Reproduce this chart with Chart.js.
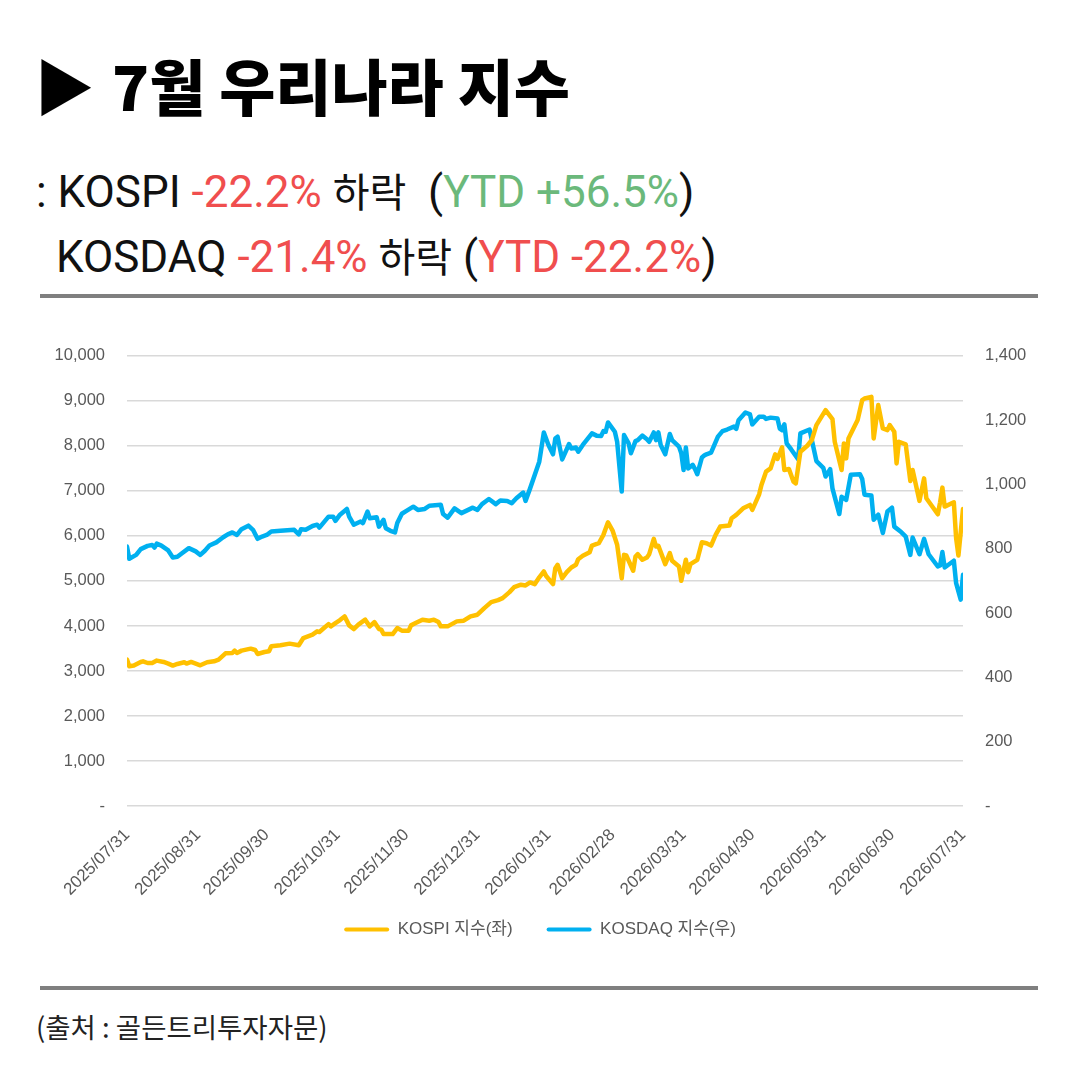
<!DOCTYPE html>
<html><head><meta charset="utf-8">
<script src="https://cdn.jsdelivr.net/npm/chart.js@4"></script>
<style>
html,body{margin:0;padding:0;background:#fff;}
body{width:1080px;height:1080px;position:relative;overflow:hidden;font-family:"Noto Sans CJK KR","Noto Sans",sans-serif;color:#111;}
.abs{position:absolute;white-space:pre;line-height:1;}
#title{left:34px;top:54px;font-size:61px;font-weight:900;color:#000;}
#title .tri{margin-right:3px;}
.sub{font-family:Roboto,"Noto Sans CJK KR",sans-serif;font-size:44px;color:#111;}
.ko{font-family:"Noto Sans CJK KR",sans-serif;font-size:40px;}
#sub1{left:36px;top:170px;}
#sub2{left:56px;top:235px;}
.red{color:#F04E4E;}
.green{color:#6BB97B;}
.rule{position:absolute;left:40px;width:998px;height:4px;background:#7f7f7f;}
#foot{left:36px;top:1013px;font-size:27.5px;color:#222;}
#wrap{position:absolute;left:0;top:324px;width:1080px;height:654px;}
</style>
</head><body>
<div id="title" class="abs"><span class="tri">▶</span> 7월 우리나라 지수</div>
<div id="sub1" class="abs sub">: KOSPI <span class="red">-22.2%</span> <span class="ko">하락</span>  (<span class="green">YTD +56.5%</span>)</div>
<div id="sub2" class="abs sub">KOSDAQ <span class="red">-21.4%</span> <span class="ko">하락</span> (<span class="red">YTD -22.2%</span>)</div>
<div class="rule" style="top:294px"></div>
<div id="wrap"><canvas id="c"></canvas></div>
<div class="rule" style="top:986px"></div>
<div id="foot" class="abs">(출처 : 골든트리투자자문)</div>
<script>
// x tick labels (month ends)
const tickLabels = ['2025/07/31','2025/08/31','2025/09/30','2025/10/31','2025/11/30','2025/12/31','2026/01/31','2026/02/28','2026/03/31','2026/04/30','2026/05/31','2026/06/30','2026/07/31'];
const seriesNames = ['KOSPI 지수(좌)', 'KOSDAQ 지수(우)'];

// KOSPI: days since 2025/07/31, index value (left axis)
const kospiDay = [0,1,3,6,7,9,11,13,16,18,20,22,25,26,28,30,32,35,38,40,43,46,47,48,50,54,56,57,60,62,63,67,71,75,77,81,83,84,86,88,89,91,93,95,97,99,101,104,106,108,110,111,112,116,118,120,123,124,126,129,132,134,136,137,140,144,147,150,153,156,159,162,164,167,169,172,174,176,178,180,182,183,186,187,188,190,192,194,196,197,199,202,203,206,208,210,212,214,216,217,218,221,222,223,225,227,228,230,231,232,235,237,238,241,242,244,245,246,249,251,253,255,257,259,263,264,266,269,272,273,276,277,279,281,283,284,286,287,289,291,292,294,297,299,301,305,308,309,312,313,314,315,319,321,322,325,326,328,330,332,333,335,336,337,340,342,343,346,348,349,354,355,356,357,361,362,363,365];
const kospiVal = [3253,3104,3120,3200,3215,3177,3177,3230,3200,3164,3120,3155,3193,3164,3200,3164,3126,3193,3215,3253,3392,3400,3452,3400,3452,3496,3466,3377,3421,3437,3548,3570,3607,3570,3732,3807,3880,3865,3953,4042,3991,4064,4130,4213,4013,3931,4029,4140,3991,4087,3931,3918,3820,3820,3953,3896,3896,4013,4064,4140,4117,4140,4087,3991,3991,4102,4117,4213,4250,4397,4530,4574,4619,4752,4862,4916,4900,4967,4929,5080,5211,5110,4929,5284,5359,5062,5195,5299,5359,5483,5559,5639,5787,5838,6024,6304,6120,5803,5062,5581,5565,5226,5543,5594,5470,5521,5594,5936,5765,5780,5373,5617,5448,5322,5004,5470,5195,5373,5470,5861,5838,5787,6024,6208,6231,6392,6468,6614,6689,6578,6925,7133,7428,7501,7812,7709,7967,7466,7488,7206,7169,7871,8004,8131,8463,8796,8597,8093,7466,8056,7723,8166,8574,9018,9053,9091,8166,8907,8388,8352,8463,8315,7612,8093,8033,7222,7466,6778,7279,6836,6481,6747,7073,6652,6747,5949,5565,6601];

// KOSDAQ: days since 2025/07/31, index value (right axis)
const kosdaqDay = [0,1,4,6,9,11,12,13,15,18,20,22,24,27,30,32,34,36,39,42,44,46,48,50,53,55,57,59,61,63,67,73,75,76,78,81,83,84,86,88,90,91,93,96,97,99,102,103,105,106,109,110,112,113,115,117,118,120,122,125,127,130,132,137,138,140,143,146,151,153,155,158,161,163,166,168,170,173,174,176,180,182,184,186,187,188,190,193,194,196,197,199,203,205,207,208,209,210,213,214,216,217,219,220,222,223,225,227,228,230,231,232,233,235,237,238,241,242,243,244,245,247,248,249,251,252,253,255,258,260,262,265,266,267,270,272,273,276,278,279,281,284,285,286,287,288,290,293,294,298,301,304,305,307,308,311,312,314,316,320,321,322,325,326,328,330,332,334,335,338,340,342,343,346,348,350,354,355,356,357,361,362,364,365];
const kosdaqVal = [807,769,781,799,809,812,804,816,810,795,773,775,786,802,792,781,794,810,820,836,845,851,843,861,872,859,831,838,843,854,856,859,845,861,859,871,875,866,883,900,900,887,906,924,900,875,885,880,916,895,898,869,890,864,856,851,880,909,918,931,921,924,934,937,908,897,926,911,928,921,939,955,939,950,949,942,957,975,949,988,1071,1162,1123,1094,1143,1149,1078,1126,1112,1115,1102,1123,1159,1152,1151,1166,1164,1193,1164,1133,978,1154,1128,1097,1135,1138,1152,1141,1133,1162,1138,1162,1123,1094,1157,1138,1118,1097,1045,1115,1050,1061,1048,1032,1084,1090,1094,1099,1149,1166,1171,1180,1173,1200,1224,1218,1187,1211,1211,1204,1208,1205,1174,1169,1187,1128,1109,1079,1159,1171,1073,1052,1025,1048,988,908,962,952,1030,1032,1017,968,966,890,906,849,916,928,869,852,838,781,835,783,831,783,745,748,790,742,763,693,642,719];

const base = Date.UTC(2025, 6, 31);
const tickDays = tickLabels.map(s => {
  const [y, m, d] = s.split('/').map(Number);
  return Math.round((Date.UTC(y, m - 1, d) - base) / 86400000);
});
const toPts = (xs, ys) => xs.map((x, i) => ({x: x, y: ys[i]}));
const fmt = v => v === 0 ? '-' : Number(v).toLocaleString('en-US');
const fam = '"Liberation Sans", Arial, "Noto Sans CJK KR", sans-serif';

// lift the legend a little closer to the rotated x labels
const legendLift = {
  id: 'legendLift',
  afterLayout(chart) {
    const lg = chart.legend;
    if (lg) { lg.top -= 14; lg.bottom -= 14; }
  }
};

new Chart(document.getElementById('c'), {
  type: 'line',
  plugins: [legendLift],
  data: {
    datasets: [
      {label: seriesNames[0], data: toPts(kospiDay, kospiVal), yAxisID: 'y',
       borderColor: '#FFC000', backgroundColor: '#FFC000', borderWidth: 4.5,
       pointRadius: 0, tension: 0, borderJoinStyle: 'round', borderCapStyle: 'round'},
      {label: seriesNames[1], data: toPts(kosdaqDay, kosdaqVal), yAxisID: 'y2',
       borderColor: '#00B0F0', backgroundColor: '#00B0F0', borderWidth: 4.5,
       pointRadius: 0, tension: 0, borderJoinStyle: 'round', borderCapStyle: 'round'}
    ]
  },
  options: {
    responsive: true, maintainAspectRatio: false, animation: false, devicePixelRatio: 1,
    layout: {padding: {left: 40, right: 40, top: 18, bottom: 16}},
    plugins: {
      tooltip: {enabled: false},
      legend: {
        position: 'bottom',
        labels: {
          boxWidth: 45, boxHeight: 4, padding: 34, color: '#595959',
          useBorderRadius: true, borderRadius: 2,
          font: {family: fam, size: 17},
          generateLabels: (chart) => {
            const items = Chart.defaults.plugins.legend.labels.generateLabels(chart);
            items.forEach(it => { it.lineWidth = 0; it.fillStyle = it.strokeStyle; });
            return items;
          }
        }
      }
    },
    scales: {
      x: {
        type: 'linear', min: 0, max: 365,
        afterBuildTicks: s => { s.ticks = tickDays.map(v => ({value: v})); },
        afterFit: s => { s.height = 95; },
        grid: {display: false}, border: {display: false},
        ticks: {autoSkip: false, minRotation: 45, maxRotation: 45, padding: 11,
          color: '#595959', font: {family: fam, size: 17},
          callback: (v, i) => tickLabels[i]}
      },
      y: {
        position: 'left', min: 0, max: 10000,
        afterFit: s => { s.width = 87; },
        grid: {color: '#d9d9d9', lineWidth: 1.5, drawTicks: false},
        border: {display: false},
        ticks: {stepSize: 1000, padding: 22, color: '#595959', font: {family: fam, size: 16.5}, callback: fmt}
      },
      y2: {
        position: 'right', min: 0, max: 1400,
        afterFit: s => { s.width = 77; },
        grid: {display: false, drawTicks: false},
        border: {display: false},
        ticks: {stepSize: 200, padding: 22, color: '#595959', font: {family: fam, size: 16.5}, callback: fmt}
      }
    }
  }
});
</script>
</body></html>
